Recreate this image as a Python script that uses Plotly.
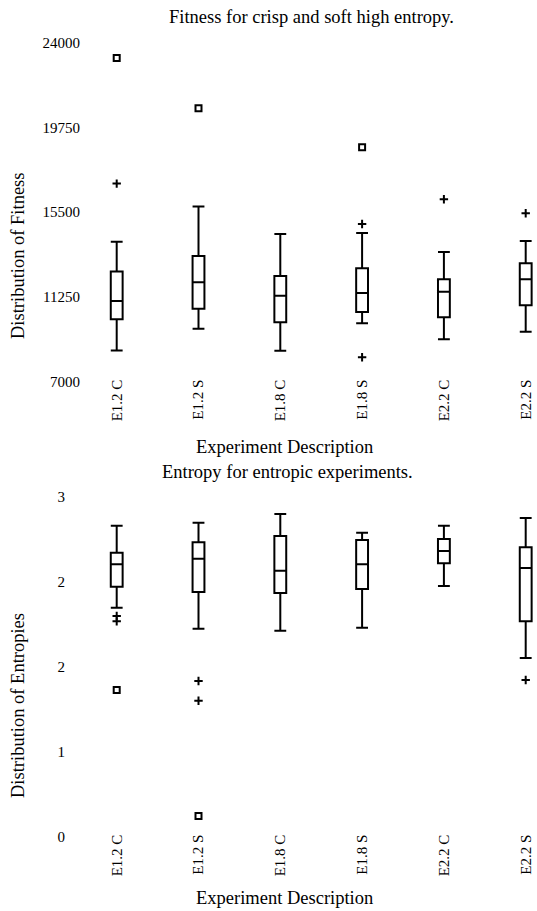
import plotly.graph_objects as go

W, H = 537, 911

categories = ["E1.2 C", "E1.2 S", "E1.8 C", "E1.8 S", "E2.2 C", "E2.2 S"]

# Fitness box statistics
fit_lower = [8570, 9660, 8555, 9930, 9130, 9510]
fit_q1 = [10130, 10660, 9980, 10500, 10230, 10830]
fit_median = [11050, 11985, 11310, 11450, 11510, 12135]
fit_q3 = [12520, 13300, 12300, 12690, 12135, 12940]
fit_upper = [14020, 15780, 14410, 14460, 13500, 14060]
# Fitness outliers
fit_mild_x = ["E1.2 C", "E1.8 S", "E1.8 S", "E2.2 C", "E2.2 S"]
fit_mild_y = [16935, 14910, 8225, 16150, 15445]
fit_ext_x = ["E1.2 C", "E1.2 S", "E1.8 S"]
fit_ext_y = [23235, 20710, 18755]
fit_ticks = [7000, 11250, 15500, 19750, 24000]
fit_ticktext = ["7000", "11250", "15500", "19750", "24000"]

# Entropy box statistics
ent_lower = [2.021, 1.835, 1.818, 1.844, 2.212, 1.577]
ent_q1 = [2.206, 2.159, 2.150, 2.186, 2.412, 1.900]
ent_median = [2.403, 2.453, 2.347, 2.403, 2.521, 2.371]
ent_q3 = [2.506, 2.597, 2.653, 2.618, 2.627, 2.553]
ent_upper = [2.744, 2.771, 2.847, 2.682, 2.744, 2.812]
# Entropy outliers
ent_mild_x = ["E1.2 C", "E1.2 C", "E1.2 S", "E1.2 S", "E2.2 S"]
ent_mild_y = [1.947, 1.900, 1.374, 1.200, 1.383]
ent_ext_x = ["E1.2 C", "E1.2 S"]
ent_ext_y = [1.294, 0.183]
ent_ticks = [0, 0.75, 1.5, 2.25, 3]
ent_ticktext = ["0", "1", "2", "2", "3"]

FONT = "Liberation Serif"
BLACK = "#000000"


def py(px):
    return 1 - px / H


def px_x(px):
    return px / W


fig = go.Figure()

box_style = dict(
    fillcolor="white",
    line=dict(color=BLACK, width=2),
    whiskerwidth=1,
    width=0.145,
    boxpoints=False,
    showlegend=False,
    hoverinfo="skip",
)

fig.add_trace(go.Box(x=categories, q1=fit_q1, median=fit_median, q3=fit_q3,
                     lowerfence=fit_lower, upperfence=fit_upper,
                     xaxis="x", yaxis="y", **box_style))
fig.add_trace(go.Box(x=categories, q1=ent_q1, median=ent_median, q3=ent_q3,
                     lowerfence=ent_lower, upperfence=ent_upper,
                     xaxis="x2", yaxis="y2", **box_style))

mild_marker = dict(symbol="cross-thin", size=6, line=dict(color=BLACK, width=2), color=BLACK)
ext_marker = dict(symbol="square-open", size=6, line=dict(color=BLACK, width=2), color=BLACK)

fig.add_trace(go.Scatter(x=fit_mild_x, y=fit_mild_y, mode="markers", marker=mild_marker,
                         xaxis="x", yaxis="y", showlegend=False, cliponaxis=False))
fig.add_trace(go.Scatter(x=fit_ext_x, y=fit_ext_y, mode="markers", marker=ext_marker,
                         xaxis="x", yaxis="y", showlegend=False, cliponaxis=False))
fig.add_trace(go.Scatter(x=ent_mild_x, y=ent_mild_y, mode="markers", marker=mild_marker,
                         xaxis="x2", yaxis="y2", showlegend=False, cliponaxis=False))
fig.add_trace(go.Scatter(x=ent_ext_x, y=ent_ext_y, mode="markers", marker=ext_marker,
                         xaxis="x2", yaxis="y2", showlegend=False, cliponaxis=False))

L = 85            # plot-area left edge (px)
spacing = 81.8    # category spacing (px)
first_center = 116.7
xr0 = -(first_center - L) / spacing
xr1 = xr0 + (W - L) / spacing

common_x = dict(type="category", categoryorder="array", categoryarray=categories,
                range=[xr0, xr1], showgrid=False, showline=False, zeroline=False,
                automargin=False, domain=[px_x(L), 1], ticklabelstandoff=-6,
                ticks="", tickangle=-90, tickfont=dict(family=FONT, size=15, color=BLACK))
common_y = dict(showgrid=False, showline=False, zeroline=False, ticks="", automargin=False,
                tickfont=dict(family=FONT, size=15, color=BLACK))

fig.update_layout(
    template="none",
    width=W, height=H,
    margin=dict(l=0, r=0, t=0, b=0, pad=0),
    paper_bgcolor="white", plot_bgcolor="white",
    showlegend=False,
    hovermode=False,
    xaxis=dict(anchor="y", **common_x),
    xaxis2=dict(anchor="y2", **common_x),
    yaxis=dict(domain=[py(381.7), py(42.7)], anchor="x", range=[7000, 24000],
               tickvals=fit_ticks, ticktext=fit_ticktext, ticklabelstandoff=4, **common_y),
    yaxis2=dict(domain=[py(836.7), py(496.7)], anchor="x2", range=[0, 3],
                tickvals=ent_ticks, ticktext=ent_ticktext, ticklabelstandoff=19, **common_y),
    annotations=[
        dict(text="Fitness for crisp and soft high entropy.", x=px_x(311), y=py(17),
             xref="paper", yref="paper", showarrow=False, xanchor="center", yanchor="middle",
             font=dict(family=FONT, size=18.5, color=BLACK)),
        dict(text="Experiment Description", x=px_x(284), y=py(447),
             xref="paper", yref="paper", showarrow=False, xanchor="center", yanchor="middle",
             font=dict(family=FONT, size=18.5, color=BLACK)),
        dict(text="Distribution of Fitness", x=px_x(18), y=py(256), textangle=-90,
             xref="paper", yref="paper", showarrow=False, xanchor="center", yanchor="middle",
             font=dict(family=FONT, size=18.5, color=BLACK)),
        dict(text="Entropy for entropic experiments.", x=px_x(287), y=py(472),
             xref="paper", yref="paper", showarrow=False, xanchor="center", yanchor="middle",
             font=dict(family=FONT, size=18.5, color=BLACK)),
        dict(text="Experiment Description", x=px_x(284), y=py(898),
             xref="paper", yref="paper", showarrow=False, xanchor="center", yanchor="middle",
             font=dict(family=FONT, size=18.5, color=BLACK)),
        dict(text="Distribution of Entropies", x=px_x(18), y=py(706), textangle=-90,
             xref="paper", yref="paper", showarrow=False, xanchor="center", yanchor="middle",
             font=dict(family=FONT, size=18.5, color=BLACK)),
    ],
)

fig.write_html(
    "out.html",
    config={"displayModeBar": False, "staticPlot": True},
    post_script="document.body.style.margin='0';document.body.style.overflow='hidden';",
)
